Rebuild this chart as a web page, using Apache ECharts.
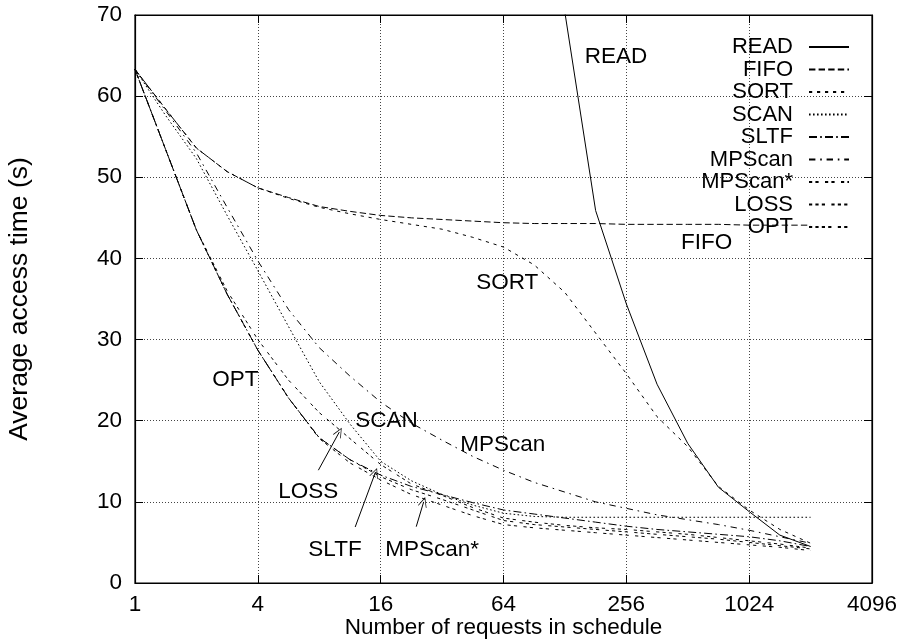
<!DOCTYPE html>
<html>
<head>
<meta charset="utf-8">
<script src="https://cdn.jsdelivr.net/npm/echarts@6/dist/echarts.min.js"></script>
<style>
html,body{margin:0;padding:0;background:#fff;}
#c{width:899px;height:643px;}
</style>
</head>
<body>
<div id="c"></div>
<script>
// requests in schedule (x, log scale)
const requests = [1, 1.414, 2, 2.828, 4, 5.657, 8, 11.31, 16, 22.63, 32, 45.25, 64, 90.51, 128, 181, 256, 362, 512, 724, 1024, 1448, 2048];
const xTicks = [1, 4, 16, 64, 256, 1024, 4096];
const yTicks = [0, 10, 20, 30, 40, 50, 60, 70];

const READ   = [null, null, null, null, null, null, null, null, null, null, null, null, null, null, 70.3, 45.9, 34.4, 24.5, 17.2, 11.8, 8.8, 5.9, 4.5];
const FIFO   = [63.3, 58.4, 53.6, 50.7, 48.7, 47.5, 46.4, 45.8, 45.3, 45.0, 44.8, 44.6, 44.4, 44.3, 44.3, 44.3, 44.2, 44.2, 44.2, 44.2, 44.1, 44.1, 44.1];
const SORT   = [63.3, 58.4, 53.6, 50.7, 48.7, 47.4, 46.3, 45.5, 44.8, 44.2, 43.6, 42.6, 41.4, 39.2, 35.8, 30.8, 25.8, 20.5, 16.8, 11.9, 9.0, 6.6, 4.9];
const SCAN   = [63.3, 57.6, 52.3, 45.3, 38.5, 31.6, 24.8, 19.6, 15.0, 12.6, 10.9, 9.6, 8.6, 8.2, 8.1, 8.1, 8.1, 8.1, 8.1, 8.1, 8.1, 8.1, 8.1];
const SLTF   = [63.3, 53.4, 43.5, 35.6, 28.7, 22.8, 17.9, 15.2, 13.3, 11.9, 10.9, 9.9, 9.0, 8.5, 8.0, 7.5, 7.0, 6.6, 6.3, 6.0, 5.7, 5.2, 4.5];
const MPScan = [63.3, 58.2, 53.0, 46.3, 39.7, 33.7, 29.0, 25.5, 22.3, 19.7, 17.6, 15.6, 13.9, 12.4, 11.2, 10.0, 9.2, 8.4, 7.8, 7.2, 6.5, 5.7, 4.9];
const MPScanStar = [63.3, 53.4, 43.5, 35.6, 28.7, 22.8, 17.8, 14.8, 12.7, 10.9, 9.6, 8.3, 7.2, 6.8, 6.5, 6.2, 5.9, 5.6, 5.3, 5.0, 4.7, 4.4, 4.0];
const LOSS   = [63.3, 53.4, 43.5, 36.0, 30.0, 25.0, 21.0, 17.8, 14.6, 12.2, 10.8, 9.3, 8.0, 7.5, 7.1, 6.8, 6.6, 6.3, 6.0, 5.6, 5.2, 4.8, 4.3];
const OPT    = [63.3, 53.4, 43.5, 35.6, 28.7, 22.8, 17.9, 15.2, 13.1, 11.5, 10.3, 9.0, 7.7, 7.2, 6.9, 6.6, 6.3, 6.0, 5.7, 5.4, 5.0, 4.6, 4.2];

const seriesNames = ['READ', 'FIFO', 'SORT', 'SCAN', 'SLTF', 'MPScan', 'MPScan*', 'LOSS', 'OPT'];
const seriesValues = [READ, FIFO, SORT, SCAN, SLTF, MPScan, MPScanStar, LOSS, OPT];

// in-plot labels (data coordinates)
const labelText = ['READ', 'FIFO', 'SORT', 'OPT', 'SCAN', 'MPScan', 'LOSS', 'SLTF', 'MPScan*'];
const labelX    = [160, 475, 47, 2.39, 12, 39.3, 5.04, 7.07, 16.85];
const labelY    = [64.8, 41.9, 37.0, 25.0, 20.0, 17.0, 11.2, 4.07, 4.07];

// arrows (data coordinates): from -> to
const arrowFromX = [7.92, 12.0, 23.9];
const arrowFromY = [13.9, 6.9, 6.94];
const arrowToX   = [10.03, 15.06, 26.0];
const arrowToY   = [18.6, 13.6, 10.0];

const FONT = '"Liberation Sans", Arial, Helvetica, sans-serif';
const k = 1.6;
const dashes = {
  'READ': 'solid',
  'FIFO': [4*k, 2*k],
  'SORT': [2*k, 3*k],
  'SCAN': [1*k, 1.5*k],
  'SLTF': [5*k, 2*k, 1*k, 2*k],
  'MPScan': [4*k, 3*k, 1*k, 3*k],
  'MPScan*': [2*k, 2*k, 2*k, 4*k],
  'LOSS': [2*k, 2*k, 2*k, 2*k, 2*k, 4*k],
  'OPT': [2*k, 2*k, 2*k, 2*k, 2*k, 2*k, 2*k, 4*k]
};

const series = seriesNames.map((name, si) => ({
  name: name,
  type: 'line',
  symbol: 'none',
  showSymbol: false,
  silent: true,
  animation: false,
  clip: true,
  lineStyle: { color: '#000', width: 1, type: dashes[name] },
  itemStyle: { color: '#000' },
  emphasis: { disabled: true },
  data: requests.map((x, i) => [x, seriesValues[si][i]]).filter(p => p[1] !== null)
}));

series.push({
  name: 'arrows',
  type: 'line',
  data: [],
  silent: true,
  animation: false,
  markLine: {
    silent: true,
    animation: false,
    symbol: ['none', 'path://M0,0 L6,12 L5,12 L0,2 L-5,12 L-6,12 Z'],
    symbolSize: [9, 10],
    lineStyle: { color: '#000', width: 1, type: 'solid' },
    label: { show: false },
    emphasis: { disabled: true },
    data: arrowFromX.map((x, i) => [
      { coord: [x, arrowFromY[i]] },
      { coord: [arrowToX[i], arrowToY[i]] }
    ])
  }
});

const gridLine = { show: true, lineStyle: { color: '#444', width: 1, type: [1, 2] } };
const textBase = { color: '#000', fontFamily: FONT, fontSize: 22.5 };

const xCommon = {
  type: 'log', logBase: 4, min: xTicks[0], max: xTicks[xTicks.length - 1], splitNumber: xTicks.length - 1
};

const option = {
  backgroundColor: '#fff',
  animation: false,
  grid: { left: 135, top: 15, right: 27, bottom: 60, containLabel: false, outerBoundsMode: 'none', show: true, borderColor: '#000', borderWidth: 1.2, backgroundColor: 'transparent' },
  legend: {
    data: seriesNames,
    orient: 'vertical',
    align: 'right',
    right: 49,
    top: 36,
    padding: 0,
    itemWidth: 40,
    itemHeight: 10,
    itemGap: 0.5,
    selectedMode: false,
    itemStyle: { opacity: 0 },
    formatter: n => n + '\u2002',
    textStyle: { color: '#000', fontFamily: FONT, fontSize: 22, lineHeight: 22 }
  },
  xAxis: [Object.assign({}, xCommon, {
    position: 'bottom',
    name: 'Number of requests in schedule', nameLocation: 'middle', nameGap: 33,
    nameMoveOverlap: false,
    nameTextStyle: textBase,
    axisLine: { show: true, onZero: false, lineStyle: { color: '#000', width: 1.2 } },
    axisTick: { show: true, inside: true, length: 8, lineStyle: { color: '#000' } },
    axisLabel: Object.assign({ margin: 10, formatter: v => String(Math.round(v)) }, textBase),
    splitLine: gridLine, minorTick: { show: false }
  }), Object.assign({}, xCommon, {
    position: 'top',
    axisLine: { show: true, onZero: false, lineStyle: { color: '#000', width: 1.2 } },
    axisTick: { show: true, inside: true, length: 8, lineStyle: { color: '#000' } },
    axisLabel: { show: false }, splitLine: { show: false }
  })],
  yAxis: [{
    type: 'value', min: yTicks[0], max: yTicks[yTicks.length - 1], interval: 10,
    position: 'left',
    name: 'Average access time (s)', nameLocation: 'middle', nameGap: 102,
    nameMoveOverlap: false,
    nameTextStyle: { color: '#000', fontFamily: FONT, fontSize: 26.5 },
    axisLine: { show: true, onZero: false, lineStyle: { color: '#000', width: 1.2 } },
    axisTick: { show: true, inside: true, length: 8, lineStyle: { color: '#000' } },
    axisLabel: Object.assign({ margin: 13 }, textBase),
    splitLine: gridLine
  }, {
    type: 'value', min: yTicks[0], max: yTicks[yTicks.length - 1], interval: 10,
    position: 'right',
    axisLine: { show: true, onZero: false, lineStyle: { color: '#000', width: 1.2 } },
    axisTick: { show: true, inside: true, length: 8, lineStyle: { color: '#000' } },
    axisLabel: { show: false }, splitLine: { show: false }
  }],
  series: series
};

const chart = echarts.init(document.getElementById('c'), null, { renderer: 'canvas' });
chart.setOption(option);

const graphics = labelText.map((t, i) => {
  const p = chart.convertToPixel({ xAxisIndex: 0, yAxisIndex: 0 }, [labelX[i], labelY[i]]);
  return {
    type: 'text', x: p[0], y: p[1], silent: true, z: 10,
    style: { text: t, fill: '#000', fontSize: 22.5, fontFamily: FONT, align: 'left', verticalAlign: 'middle', textAlign: 'left', textVerticalAlign: 'middle' }
  };
});
chart.setOption({ graphic: graphics });
</script>
</body>
</html>
